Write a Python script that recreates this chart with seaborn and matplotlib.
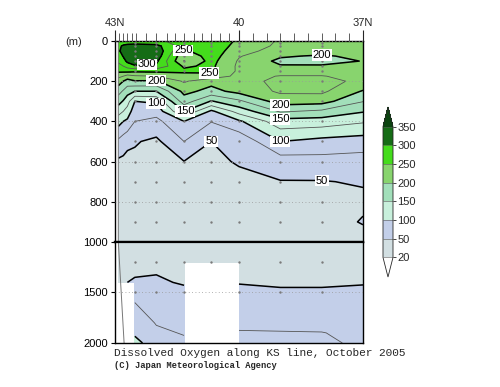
import numpy as np
import pandas as pd
import matplotlib
matplotlib.use("Agg")
import matplotlib.pyplot as plt
from matplotlib.colors import ListedColormap, BoundaryNorm
import seaborn as sns

# station latitudes (N) and sample depths (m)
lats = [42.92, 42.80, 42.70, 42.52, 42.00, 41.33, 40.67, 40.00, 39.00, 38.00, 37.00]
depths = [0, 25, 50, 75, 100, 125, 150, 175, 200, 250, 300, 350, 400, 500,
          600, 700, 800, 900, 1000, 1200, 1300, 1400, 1500, 1600, 1800, 1900, 2000]

nan = np.nan
# dissolved oxygen (umol/kg) profile at each station
o2_4292 = [272, 292, 295, 285, 278, 270, 255, 232, 212, 185, 160, 135, 110, 70,
           46, 42, 38, 36, 36, 40, 44, 47, nan, nan, nan, nan, nan]
o2_4280 = [278, 305, 310, 302, 290, 275, 256, 225, 200, 172, 148, 125, 100, 62,
           45, 41, 38, 36, 36, 41, 45, 48, nan, nan, nan, nan, nan]
o2_4270 = [280, 310, 318, 315, 306, 285, 258, 215, 190, 160, 135, 115, 95, 55,
           44, 41, 37, 35, 35, 42, 46, 50, nan, nan, nan, nan, nan]
o2_4252 = [282, 312, 322, 318, 310, 298, 255, 222, 198, 150, 100, 85, 75, 52,
           45, 41, 37, 35, 35, 43, 48, 52, 60, 75, 85, 95, 110]
o2_4200 = [280, 308, 318, 315, 305, 296, 256, 225, 197, 150, 104, 85, 68, 45,
           44, 41, 37, 35, 35, 44, 49, 53, 58, 65, 74, 78, 82]
o2_4133 = [265, 262, 246, 230, 224, 246, 256, 238, 228, 207, 188, 150, 100, 75,
           49.5, 44, 38, 35, 35, 45, 46, 48, 55, 62, 70, 74, 78]
o2_4067 = [270, 268, 265, 262, 258, 255, 256, 240, 208, 192, 148, 95, 76, 50,
           45, 42, 38, 35, 35, 45, nan, nan, nan, nan, nan, nan, nan]
o2_4000 = [245, 240, 234, 227, 222, 220, 220, 218, 216, 208, 170, 135, 96, 56,
           52, 44, 38, 35, 36, 45, 48, 49, 55, 63, 72, 76, 79]
o2_3900 = [222, 220, 215, 203, 194, 202, 215, 226, 231, 229, 212, 178, 140, 100,
           63, 49, 40, 36, 36, 44, 46, 48, 52, 60, 70, 76, 78]
o2_3800 = [222, 219, 212, 197, 190, 203, 215, 226, 232, 230, 210, 170, 138, 92,
           66, 49, 41, 37, 36, 44, 46, 48, 52, 60, 70, 75.5, 77]
o2_3700 = [222, 220, 214, 206, 201, 208, 214, 218, 220, 198, 176, 152, 128, 88,
           64, 52, 45, 52, 38, 44, 46, 49, 53, 60, 68, 71, 73]

# coastal wall / bottom edge of the section
wall_lat = [42.92, 42.92, 42.78]
wall_depth = [0, 1000, 2000]

# bottle sampling points
dot_lats = [42.52, 42.00, 41.33, 40.67, 40.00, 39.00, 38.00]
dot_depths = [10, 25, 50, 75, 100, 125, 150, 200, 250, 300, 400, 500,
              600, 700, 800, 900, 1200, 1500]

levels = [20, 50, 100, 150, 200, 250, 300, 350]
thin_levels = [75, 125, 175, 225, 275]
fill_colors = ["#d2dfe2", "#c3cfe9", "#c8f0dc", "#a2dfba",
               "#88d46e", "#44dc1c", "#156c16"]
under_color = "#ffffff"
over_color = "#0b4410"

# contour labels: (lat, depth)
label_spots = [(41.36, 44), (42.23, 122), (42.0, 195), (40.72, 162), (38.0, 70),
               (42.0, 310), (41.3, 348), (39.0, 322), (39.0, 386), (39.0, 502),
               (40.67, 500), (38.0, 690)]

o2 = np.column_stack([o2_4292, o2_4280, o2_4270, o2_4252, o2_4200, o2_4133,
                      o2_4067, o2_4000, o2_3900, o2_3800, o2_3700])
o2 = np.ma.masked_invalid(o2)
LAT, DEP = np.meshgrid(lats, depths)

sns.set_style("ticks")
plt.rcParams["font.family"] = ["Liberation Sans", "DejaVu Sans"]

cmap = ListedColormap(fill_colors)
cmap.set_under(under_color)
cmap.set_over(over_color)
norm = BoundaryNorm(levels, cmap.N)

fig = plt.figure(figsize=(5, 3.87), dpi=100)
ax_top = fig.add_axes([0.23, 0.3747, 0.496, 0.5194])
ax_bot = fig.add_axes([0.23, 0.1137, 0.496, 0.261])
cax = fig.add_axes([0.766, 0.2842, 0.02, 0.4393])

dots = pd.DataFrame([(la, de) for la in dot_lats for de in dot_depths],
                    columns=["lat", "depth"])
dots = dots[~((dots["lat"] == 40.67) & (dots["depth"] > 1200))]

for ax in (ax_top, ax_bot):
    cf = ax.contourf(LAT, DEP, o2, levels=levels, cmap=cmap, norm=norm,
                     extend="both", corner_mask=False)
    ax.contour(LAT, DEP, o2, levels=thin_levels, colors="#555555",
               linewidths=0.6, corner_mask=False)
    ax.contour(LAT, DEP, o2, levels=levels[1:-1], colors="black",
               linewidths=1.1, corner_mask=False)
    sns.scatterplot(data=dots, x="lat", y="depth", ax=ax, color="#7a7a7a",
                    s=3, linewidth=0, legend=False, zorder=3)
    ax.plot(wall_lat, wall_depth, color="#777777", lw=0.7)
    ax.set_xlabel("")
    ax.set_ylabel("")
    ax.set_xlim(43, 37)
    ax.yaxis.grid(True, linestyle=(0, (1, 3)), color="#999999", lw=0.6)
    ax.set_axisbelow(False)
    for sp in ax.spines.values():
        sp.set_color("black")
        sp.set_linewidth(1.0)
    ax.tick_params(axis="y", direction="out", length=3, width=0.8, pad=2,
                   labelsize=8, colors="black")

ax_top.set_ylim(1000, 0)
ax_top.set_yticks([0, 200, 400, 600, 800, 1000])
ax_top.spines["bottom"].set_linewidth(1.6)
ax_top.set_xticks([43, 40, 37])
ax_top.set_xticklabels(["43N", "40", "37N"])
ax_top.set_xticks([42.9, 42.8, 42.7, 42.6, 42.5, 42.25, 42.0, 41.75, 41.55, 41.33,
                   41.1, 40.9, 40.67, 40.45, 40.25, 39.67, 39.33, 39.0, 38.67,
                   38.33, 38.0, 37.67, 37.33], minor=True)
ax_top.tick_params(axis="x", which="both", top=True, labeltop=True, bottom=False,
                   labelbottom=False, direction="out", labelsize=8, pad=1)
ax_top.tick_params(axis="x", which="major", length=8, width=0.8)
ax_top.tick_params(axis="x", which="minor", length=6, width=0.6, color="#444444")

ax_bot.set_ylim(2000, 1000)
ax_bot.set_yticks([1500, 2000])
ax_bot.spines["top"].set_linewidth(1.6)
ax_bot.set_xticks([])

# contour labels on the upper panel
cs_lab = ax_top.contour(LAT, DEP, o2, levels=levels[1:-1], colors="black",
                        linewidths=0, corner_mask=False)
texts = ax_top.clabel(cs_lab, fmt="%d", fontsize=8, manual=label_spots, inline=False)
for t in texts:
    t.set_rotation(0)
    t.set_bbox(dict(facecolor="white", edgecolor="none", pad=0.6))

cb = fig.colorbar(cf, cax=cax, ticks=levels, extendfrac=0.15, drawedges=True)
cb.ax.tick_params(labelsize=8, length=2, width=0.6, pad=1)
cb.outline.set_linewidth(0.6)
cb.dividers.set_color("#555555")
cb.dividers.set_linewidth(0.4)

fig.text(0.148, 1 - 42 / 387, "(m)", fontsize=8, ha="center", va="center")
fig.text(0.228, 1 - 353 / 387, "Dissolved Oxygen along KS line, October 2005",
         family=["Liberation Mono", "DejaVu Sans Mono"], fontsize=8, va="center")
fig.text(0.228, 1 - 366 / 387, "(C) Japan Meteorological Agency",
         family=["Liberation Mono", "DejaVu Sans Mono"], fontsize=6.3,
         fontweight="bold", va="center")

fig.savefig("out.png", dpi=100)
